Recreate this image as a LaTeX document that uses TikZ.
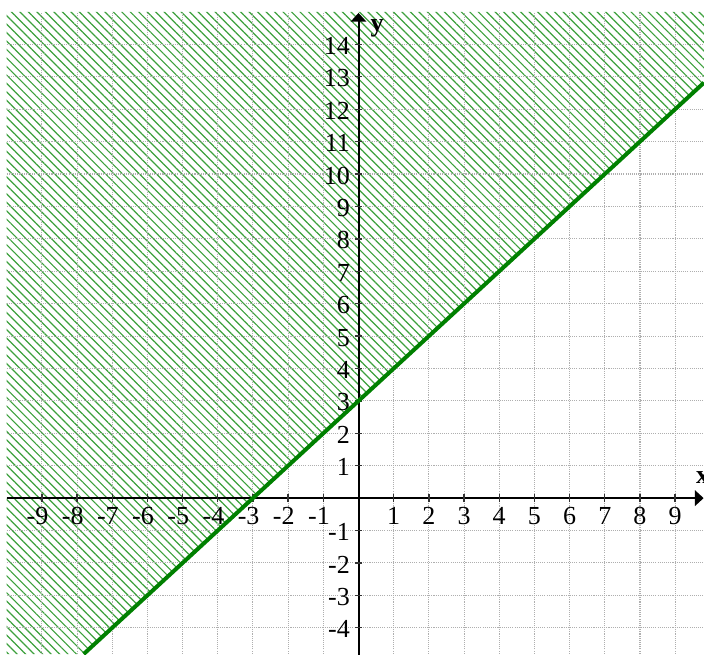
\documentclass[tikz,border=0pt]{standalone}
\usepackage{fontspec}
\setmainfont{Liberation Serif}
\usepackage{tikz}
\usetikzlibrary{arrows.meta,patterns.meta}
\definecolor{plotgreen}{RGB}{0,128,0}
\definecolor{hatchgreen}{RGB}{60,160,60}
\definecolor{gridgray}{RGB}{175,175,175}
\tikzset{
  gridline/.style={gridgray, line width=0.8pt, dash pattern=on 0.8pt off 0.8pt},
  axisline/.style={black, line width=1.5pt},
  axistip/.style={-{Triangle[length=6.5pt, width=11.5pt]}},
  tickmark/.style={black!80, line width=1pt},
  hatchregion/.style={pattern={Lines[angle=-45, distance=4.5pt, line width=0.9pt]},
    pattern color=hatchgreen},
  boundary/.style={plotgreen, line width=3pt},
  xlab/.style={font=\fontsize{19.5}{22}\selectfont, inner sep=1pt},
  ylab/.style={font=\fontsize{19.5}{22}\selectfont, inner sep=1pt, anchor=east},
  axislab/.style={font=\fontsize{19.5}{22}\selectfont\bfseries, inner sep=0pt},
}
\begin{document}
\begin{tikzpicture}[x=26.38pt, y=24.3pt]
    % frame of the picture
    \useasboundingbox (-10.19,-4.81) rectangle (9.82,15.37);
    \clip (-10.19,-4.81) rectangle (9.82,15.37);

    % shaded half plane y > x + 3
    \fill[hatchregion] (-10,-4.81) -- (-7.81,-4.81) -- (9.82,12.82) -- (9.82,15) -- (-10,15) -- cycle;

    % dotted grid
    \foreach \gx in {-9,...,10}
      \draw[gridline] (\gx,-5) -- (\gx,15);
    \foreach \gy in {-5,...,14}
      \draw[gridline] (-10,\gy) -- (10,\gy);

    % axes
    \coordinate (xstart) at (-10,0);
    \coordinate (xend) at (9.81,0);
    \coordinate (ystart) at (0,-5);
    \coordinate (yend) at (0,14.97);
    \draw[axisline, axistip] (xstart) -- (xend);
    \draw[axisline, axistip] (ystart) -- (yend);
    \node[axislab] (xname) at (9.78,0.62) {x};
    \node[axislab] (yname) at (0.53,14.5) {y};

    % ticks and numbers on the x axis
    \foreach \i in {1,...,9} {
      \draw[tickmark] (\i,-0.12) -- (\i,0.12);
      \draw[tickmark] (-\i,-0.12) -- (-\i,0.12);
      \node[xlab] (xp\i) at (\i,-0.56) {\i};
      \node[xlab] (xn\i) at (-\i,-0.56) {\llap{-}\i};
    }

    % ticks and numbers on the y axis
    \foreach \j in {1,...,14}
      \draw[tickmark] (-0.11,\j) -- (0.11,\j);
    \foreach \j in {1,...,4}
      \draw[tickmark] (-0.11,-\j) -- (0.11,-\j);
    \foreach \j in {1,...,14}
      \node[ylab] (yp\j) at (-0.2,\j-0.05) {\j};
    \foreach \j in {1,...,4}
      \node[ylab] (yn\j) at (-0.2,-\j-0.05) {-\j};

    % boundary line y = x + 3
    \coordinate (lstart) at (-7.81,-4.81);
    \coordinate (lend) at (9.82,12.82);
    \draw[boundary] (lstart) -- (lend);
\end{tikzpicture}
\end{document}
